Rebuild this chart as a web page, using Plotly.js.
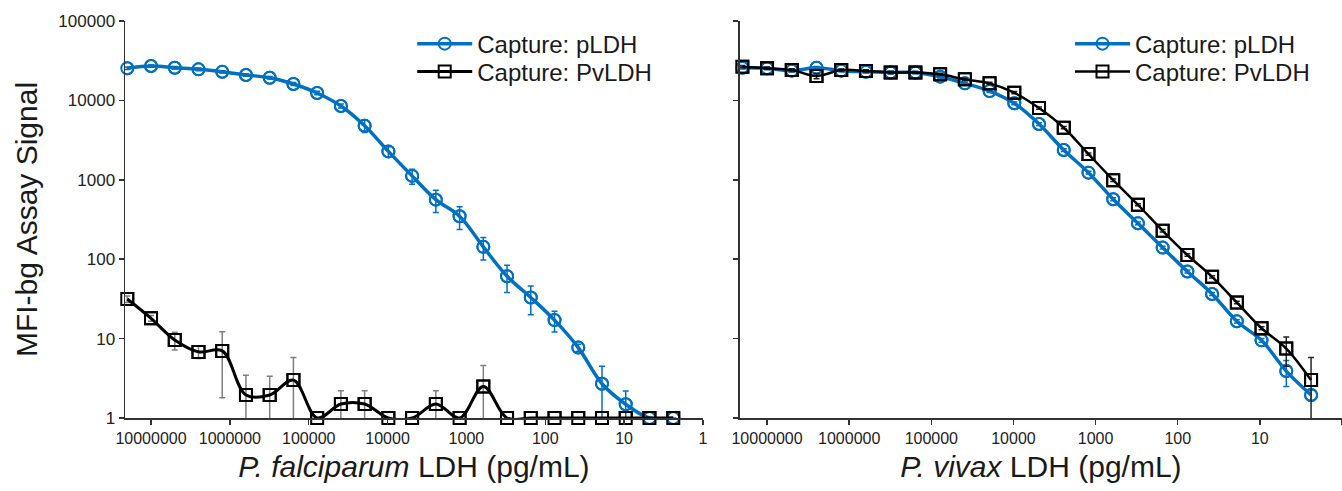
<!DOCTYPE html>
<html>
<head>
<meta charset="utf-8">
<script src="https://cdn.plot.ly/plotly-3.0.1.min.js"></script>
<style>html,body{margin:0;padding:0;background:#fff;}#chart{width:1342px;height:491px;}</style>
</head>
<body>
<div id="chart"></div>
<script>
// LDH concentration (pg/mL), 2-fold dilution series
const conc = [20000000, 10000000, 5000000, 2500000, 1250000, 625000, 312500, 156250, 78125, 39062.5,
  19531.25, 9765.625, 4882.8, 2441.4, 1220.7, 610.35, 305.18, 152.59, 76.29, 38.15, 19.07, 9.54, 4.77, 2.38];

// Left panel: P. falciparum LDH
const pfCapPLDH = [25400, 27100, 25800, 24600, 22900, 20900, 19300, 16100, 12400, 8500, 4800, 2280,
  1120, 562, 347, 143, 61, 33, 17.1, 7.7, 2.7, 1.49, 1, 1];
const pfCapPLDHerr = [900, 900, 900, 900, 800, 800, 700, 700, 600, 500, 850, 330,
  240, 175, 110, 45, 23, 13, 5, 0.8, 1.8, 0.7, 0, 0];
const pfCapPvLDH = [31.5, 18, 9.6, 6.8, 7.0, 1.95, 1.95, 3.0, 1, 1.5, 1.5, 1,
  1, 1.5, 1, 2.5, 1, 1, 1, 1, 1, 1, 1, 1];
const pfCapPvLDHerr = [3, 1.5, 2.4, 1.2, 5.2, 1.5, 1.4, 2.8, 0, 0.7, 0.7, 0,
  0, 0.7, 0, 2.1, 0, 0, 0, 0, 0, 0, 0, 0];

// Right panel: P. vivax LDH
const pvCapPLDH = [25800, 25400, 23700, 25800, 23700, 23000, 22500, 22500, 19900, 16400, 13100, 9190,
  5040, 2370, 1230, 568, 283, 140, 70, 36.5, 16.5, 9.5, 3.9, 1.95];
const pvCapPLDHerr = [900, 900, 900, 900, 800, 800, 800, 700, 700, 600, 500, 350,
  200, 90, 50, 25, 12, 6, 3, 1.5, 0.8, 0.5, 1.4, 0.3];
const pvCapPvLDH = [26600, 25400, 24100, 20300, 24100, 23500, 22500, 22500, 21300, 18400, 16400, 12500,
  8000, 4530, 2110, 990, 485, 228, 113, 60, 28.5, 13.5, 7.5, 3.0];
const pvCapPvLDHerr = [900, 900, 900, 1500, 800, 800, 800, 700, 700, 600, 500, 400,
  250, 150, 70, 35, 15, 8, 4, 2, 1, 0.6, 3.0, 2.8];

const yTickVals = [1, 10, 100, 1000, 10000, 100000];
const yTickText = ['1', '10', '100', '1000', '10000', '100000'];
const xTickVals = [10000000, 1000000, 100000, 10000, 1000, 100, 10, 1];
const xTickText = ['10000000', '1000000', '100000', '10000', '1000', '100', '10', '1'];

const seriesNames = ['Capture: pLDH', 'Capture: PvLDH'];

const BLUE = '#0070C0';
const FONT = 'Arial, "Liberation Sans", sans-serif';

function series(x, y, err, name, color, errColor, symbol, lw, xa, ya, legendId) {
  const main = {
    x: x, y: y, name: name, type: 'scatter', mode: 'lines+markers',
    xaxis: xa, yaxis: ya, legend: legendId,
    line: {color: color, width: lw, shape: 'spline', smoothing: 1},
    marker: {symbol: symbol, size: 12, color: color, line: {color: color, width: 2}},
    error_y: {type: 'data', array: err, visible: true, color: errColor, thickness: 1.5, width: 3},
    cliponaxis: true
  };
  const marks = {
    x: x, y: y, name: name, type: 'scatter', mode: 'markers', showlegend: false,
    xaxis: xa, yaxis: ya, hoverinfo: 'skip',
    marker: {symbol: symbol, size: 12, color: color, line: {color: color, width: 2}},
    cliponaxis: false
  };
  return [main, marks];
}

const data = [].concat(
  series(conc, pfCapPLDH, pfCapPLDHerr, seriesNames[0], BLUE, BLUE, 'circle-open', 3.5, 'x', 'y', 'legend'),
  series(conc, pfCapPvLDH, pfCapPvLDHerr, seriesNames[1], '#000000', '#808080', 'square-open', 3, 'x', 'y', 'legend2'),
  series(conc, pvCapPLDH, pvCapPLDHerr, seriesNames[0], BLUE, BLUE, 'circle-open', 3.5, 'x2', 'y2', 'legend3'),
  series(conc, pvCapPvLDH, pvCapPvLDHerr, seriesNames[1], '#000000', '#262626', 'square-open', 2.5, 'x2', 'y2', 'legend4')
);

const axisCommon = {
  type: 'log', showgrid: false, zeroline: false, showline: true, linecolor: '#333', linewidth: 1.5,
  ticks: 'outside', ticklen: 5, tickwidth: 1.5, tickcolor: '#333'
};

function legendAt(x, y) {
  return {
    x: x, y: y, xanchor: 'left', yanchor: 'middle',
    bgcolor: 'rgba(0,0,0,0)', borderwidth: 0, itemwidth: 55,
    font: {family: FONT, size: 24, color: '#1a1a1a'}
  };
}

const layout = {
  width: 1342, height: 491,
  margin: {l: 125, r: 0, t: 21, b: 73},
  paper_bgcolor: '#fff', plot_bgcolor: '#fff',
  font: {family: FONT, color: '#1a1a1a'},
  showlegend: true,
  xaxis: Object.assign({}, axisCommon, {
    domain: [0, 0.4749], range: [7.33, 0], anchor: 'y',
    tickvals: xTickVals, ticktext: xTickText, tickfont: {size: 16, color: '#222'},
    title: {text: '<i>P. falciparum</i> LDH (pg/mL)', font: {size: 30, color: '#1a1a1a'}, standoff: 10}
  }),
  yaxis: Object.assign({}, axisCommon, {
    domain: [0, 1], range: [0, 5], anchor: 'x',
    tickvals: yTickVals, ticktext: yTickText, tickfont: {size: 17, color: '#222'},
    title: {text: 'MFI-bg Assay Signal', font: {size: 30, color: '#1a1a1a'}, standoff: 12}
  }),
  xaxis2: Object.assign({}, axisCommon, {
    domain: [0.5053, 1], range: [7.33, 0], anchor: 'y2',
    tickvals: xTickVals, ticktext: xTickText, tickfont: {size: 16, color: '#222'},
    title: {text: '<i>P. vivax</i> LDH (pg/mL)', font: {size: 30, color: '#1a1a1a'}, standoff: 10}
  }),
  yaxis2: Object.assign({}, axisCommon, {
    domain: [0, 1], range: [0, 5], anchor: 'x2',
    tickvals: yTickVals, ticktext: yTickText, showticklabels: false
  }),
  legend: legendAt(0.236, 0.942),
  legend2: legendAt(0.236, 0.872),
  legend3: legendAt(0.7765, 0.942),
  legend4: legendAt(0.7765, 0.872)
};

Plotly.newPlot('chart', data, layout, {displayModeBar: false, staticPlot: true});
</script>
</body>
</html>
